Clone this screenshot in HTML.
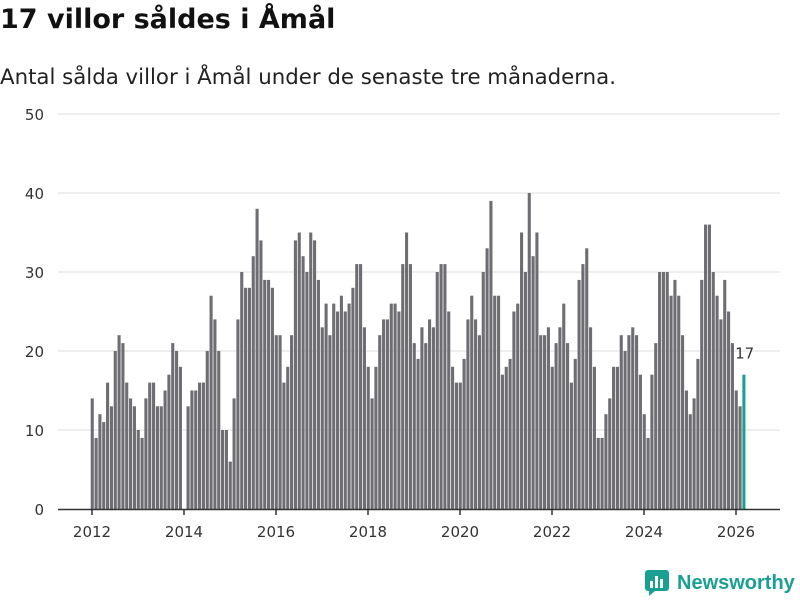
<!DOCTYPE html>
<html><head><meta charset="utf-8"><style>
body{margin:0;background:#fff;font-family:"DejaVu Sans",sans-serif;}
#wrap{position:relative;width:800px;height:600px;overflow:hidden}
h1{position:absolute;left:0;top:4px;margin:0;font-size:27px;font-weight:bold;color:#111}
p.sub{position:absolute;left:0;top:65px;margin:0;font-size:21.3px;color:#222}
</style></head><body><div id="wrap">
<h1>17 villor såldes i Åmål</h1>
<p class="sub">Antal sålda villor i Åmål under de senaste tre månaderna.</p>
<svg id="chart" width="800" height="600" style="position:absolute;left:0;top:0"></svg>
<div style="position:absolute;left:645px;top:570px;display:flex;align-items:center">
<svg width="24" height="26"><rect x="0" y="0" width="24" height="21" rx="3" fill="#1a9f93"/><polygon points="4,21 10,21 4,26" fill="#1a9f93"/><rect x="5" y="11" width="3" height="7" fill="#fff"/><rect x="10" y="6" width="3" height="12" fill="#fff"/><rect x="15" y="9" width="3" height="9" fill="#fff"/></svg>
<span style="margin-left:8px;font-family:'Liberation Sans',sans-serif;font-size:20px;font-weight:bold;color:#1a9f93">Newsworthy</span></div>
</div>
<script>
const values = [
14,9,12,11,16,13,20,22,21,16,14,13,
10,9,14,16,16,13,13,15,17,21,20,18,
0,13,15,15,16,16,20,27,24,20,10,10,
6,14,24,30,28,28,32,38,34,29,29,28,
22,22,16,18,22,34,35,32,30,35,34,29,
23,26,22,26,25,27,25,26,28,31,31,23,
18,14,18,22,24,24,26,26,25,31,35,31,
21,19,23,21,24,23,30,31,31,25,18,16,
16,19,24,27,24,22,30,33,39,27,27,17,
18,19,25,26,35,30,40,32,35,22,22,23,
18,21,23,26,21,16,19,29,31,33,23,18,
9,9,12,14,18,18,22,20,22,23,22,17,
12,9,17,21,30,30,30,27,29,27,22,15,
12,14,19,29,36,36,30,27,24,29,25,21,
15,13,17];
const startYear = 2012;
const yTicks = [0,10,20,30,40,50];
const xTickYears = [2012,2014,2016,2018,2020,2022,2024,2026];
const NS="http://www.w3.org/2000/svg";
const svg=document.getElementById('chart');
const y0=509, yPer=7.9, x0=92, monthW=46/12;
const yS=v=>y0-v*yPer;
const xS=i=>x0+i*monthW;
const FONT='DejaVu Sans, sans-serif';
function el(t,a){const e=document.createElementNS(NS,t);for(const k in a)e.setAttribute(k,a[k]);svg.appendChild(e);return e;}
yTicks.forEach(t=>{
  if(t>0){const g=el('line',{x1:58,x2:780,y1:yS(t),y2:yS(t),stroke:'#dddddd','stroke-width':1});
  
  }
  const l=el('text',{x:44,y:yS(t)+6,'text-anchor':'end','font-size':15,fill:'#333','font-family':FONT});
  l.textContent=t;
  
  
});
values.forEach((v,i)=>{
  const last=i===values.length-1;
  const r=el('rect',{x:xS(i)-1.3,y:yS(v),width:3.1,height:v*yPer,fill:last?'#1a9f93':'#6e6d72'});
  
  
  if(last){const t=el('text',{x:xS(i)+1,y:yS(v)-16,'text-anchor':'middle','font-size':15,fill:'#333','font-family':FONT});
  t.textContent=v;
  
  }
});
const ax=el('line',{x1:58,x2:780,y1:y0+0.5,y2:y0+0.5,stroke:'#333','stroke-width':1.5});


xTickYears.forEach(yr=>{
  const x=xS((yr-startYear)*12);
  const tk=el('line',{x1:x,x2:x,y1:y0,y2:y0+6,stroke:'#333','stroke-width':1.5});
  
  
  const l=el('text',{x:x,y:537,'text-anchor':'middle','font-size':15,fill:'#333','font-family':FONT});
  l.textContent=yr;
  
  
});
</script></body></html>
